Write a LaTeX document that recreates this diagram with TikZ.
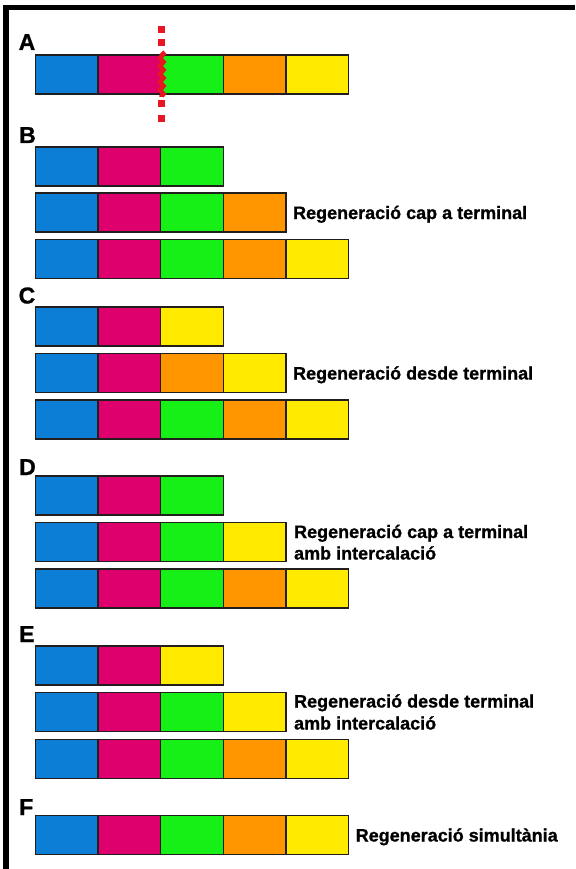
\documentclass[tikz,border=0pt]{standalone}
\usepackage{fontspec}
\setmainfont{Liberation Sans}
\newfontfamily\heavy{Liberation Sans}[FakeBold=1]
\usetikzlibrary{decorations.pathmorphing}
\definecolor{cblue}{RGB}{12,126,214}
\definecolor{cmag}{RGB}{222,0,108}
\definecolor{cgreen}{RGB}{22,240,22}
\definecolor{corange}{RGB}{255,150,0}
\definecolor{cyellow}{RGB}{255,234,0}
\definecolor{cred}{RGB}{232,22,32}
\definecolor{cedge}{RGB}{35,30,30}
\tikzset{
  seg/.style={draw=cedge, line width=1.3pt, minimum width=62.6pt, minimum height=39pt,
    inner sep=0pt, outer sep=0pt, anchor=north west},
  letter/.style={font=\heavy\bfseries\fontsize{23}{23}\selectfont, inner sep=0pt, anchor=base west},
  caption/.style={font=\heavy\bfseries\fontsize{18}{21}\selectfont, inner sep=0pt, anchor=base west},
  cutdash/.style={draw=cred, line width=7.5pt, dash pattern=on 7pt off 6pt},
  cutwave/.style={draw=cred, line width=4.5pt, decorate,
    decoration={zigzag, amplitude=1.8pt, segment length=8pt}},
  frameline/.style={fill=black}
}
\begin{document}
\begin{tikzpicture}[x=1pt,y=-1pt]
\useasboundingbox (0,0) rectangle (575,869);
% frame
\fill[frameline] (3,5) rectangle (575,10);
\fill[frameline] (3,5) rectangle (9,869);
% rows of segments
\foreach \n/\t/\cols in {
  A/55/{cblue,cmag,cgreen,corange,cyellow},
  B1/147/{cblue,cmag,cgreen},
  B2/193/{cblue,cmag,cgreen,corange},
  B3/239.5/{cblue,cmag,cgreen,corange,cyellow},
  C1/307/{cblue,cmag,cyellow},
  C2/353.5/{cblue,cmag,corange,cyellow},
  C3/400/{cblue,cmag,cgreen,corange,cyellow},
  D1/476/{cblue,cmag,cgreen},
  D2/522.5/{cblue,cmag,cgreen,cyellow},
  D3/569/{cblue,cmag,cgreen,corange,cyellow},
  E1/646/{cblue,cmag,cyellow},
  E2/692.5/{cblue,cmag,cgreen,cyellow},
  E3/739.5/{cblue,cmag,cgreen,corange,cyellow},
  F/815.5/{cblue,cmag,cgreen,corange,cyellow}}{
  \foreach \c [count=\i from 0] in \cols {
    \node[seg, fill=\c] (\n-\i) at ({35.5+62.6*\i}, \t) {};
  }
}
% section letters
\node[letter] (lA) at (18.5,50) {A};
\node[letter] (lB) at (19,143) {B};
\node[letter] (lC) at (18.5,303.5) {C};
\node[letter] (lD) at (19,475) {D};
\node[letter] (lE) at (19,642) {E};
\node[letter] (lF) at (19,815) {F};
% captions
\node[caption] (tB) at ([xshift=7pt,yshift=-6.5pt]B2-3.east) {Regeneració cap a terminal};
\node[caption] (tC) at ([xshift=7pt,yshift=-6.5pt]C2-3.east) {Regeneració desde terminal};
\node[caption] (tD1) at ([xshift=8pt,yshift=4pt]D2-3.east) {Regeneració cap a terminal};
\node[caption] (tD2) at ([xshift=8pt,yshift=-17.5pt]D2-3.east) {amb intercalació};
\node[caption] (tE1) at ([xshift=8pt,yshift=4.5pt]E2-3.east) {Regeneració desde terminal};
\node[caption] (tE2) at ([xshift=8pt,yshift=-17.5pt]E2-3.east) {amb intercalació};
\node[caption] (tF) at ([xshift=7pt,yshift=-6.5pt]F-4.east) {Regeneració simultània};
% cut marker
\coordinate (cutTop) at ([xshift=1pt,yshift=29pt]A-2.north west);
\coordinate (cutIn) at ([xshift=1pt,yshift=3pt]A-2.north west);
\coordinate (cutOut) at ([xshift=1pt,yshift=-3pt]A-2.south west);
\coordinate (cutMidTop) at ([xshift=1pt,yshift=9pt]A-2.north west);
\coordinate (cutMidBot) at ([xshift=1pt,yshift=-6pt]A-2.south west);
\coordinate (cutBot) at ([xshift=1pt,yshift=-28pt]A-2.south west);
\draw[cutdash] (cutTop) -- (cutMidTop);
\draw[cutwave] (cutIn) -- (cutOut);
\draw[cutdash, dash pattern=on 7pt off 8pt] (cutMidBot) -- (cutBot);
\end{tikzpicture}
\end{document}
